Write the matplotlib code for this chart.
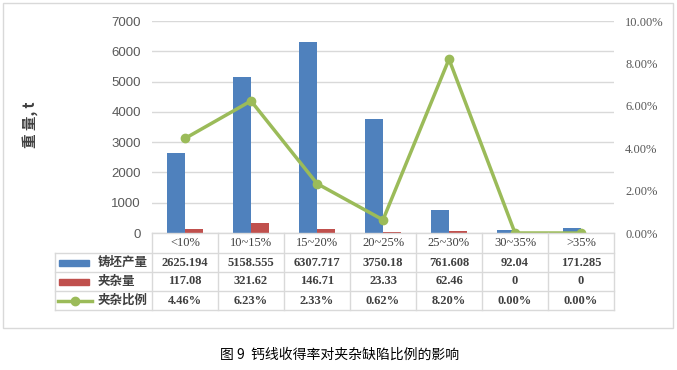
import matplotlib.pyplot as plt
from matplotlib.patches import Rectangle
from matplotlib.lines import Line2D
from matplotlib.ticker import FuncFormatter

plt.rcParams['font.family'] = ['Noto Sans CJK SC', 'DejaVu Sans']

categories = ['<10%', '10~15%', '15~20%', '20~25%', '25~30%', '30~35%', '>35%']
output = [2625.194, 5158.555, 6307.717, 3750.18, 761.608, 92.04, 171.285]
output_txt = ['2625.194', '5158.555', '6307.717', '3750.18', '761.608', '92.04', '171.285']
inclusion = [117.08, 321.62, 146.71, 23.33, 62.46, 0, 0]
inclusion_txt = ['117.08', '321.62', '146.71', '23.33', '62.46', '0', '0']
ratio = [4.46, 6.23, 2.33, 0.62, 8.20, 0.00, 0.00]
ratio_txt = ['4.46%', '6.23%', '2.33%', '0.62%', '8.20%', '0.00%', '0.00%']
names = ['铸坯产量', '夹杂量', '夹杂比例']

blue = '#4F81BD'
red = '#C0504D'
green = '#9BBB59'
grid = '#D9D9D9'
txt = '#404040'

W, H = 677, 370
fig = plt.figure(figsize=(W / 100, H / 100), dpi=100)

def fx(px):
    return px / W

def fy(py):
    return 1 - py / H

# outer border
fig.patches.append(Rectangle((fx(3), fy(328)), fx(670), 325 / H, transform=fig.transFigure,
                             fill=False, edgecolor=grid, linewidth=1))

L, R, T, B = 152, 614, 21, 233
ax = fig.add_axes([fx(L), fy(B), (R - L) / W, (B - T) / H])
x = list(range(len(categories)))
bw = 0.28
ax.bar([i - bw / 2 for i in x], output, width=bw, color=blue, zorder=2)
ax.bar([i + bw / 2 for i in x], inclusion, width=bw, color=red, zorder=2)
ax.set_xlim(-0.5, len(categories) - 0.5)
ax.set_ylim(0, 7000)
ax.set_yticks(range(0, 7001, 1000))
ax.yaxis.grid(True, color=grid, linewidth=1, zorder=0)
ax.set_xticks([])
for s in ax.spines.values():
    s.set_visible(False)
ax.tick_params(axis='y', length=0, pad=8, labelsize=9.5, labelcolor='#595959')
for lab in ax.get_yticklabels():
    lab.set_family(['Liberation Sans'])

ax2 = ax.twinx()
ax2.plot(x, ratio, color=green, linewidth=2.5, marker='o', markersize=6, zorder=3)
ax2.set_ylim(0, 10)
ax2.set_yticks(range(0, 11, 2))
ax2.yaxis.set_major_formatter(FuncFormatter(lambda v, p: '%.2f%%' % v))
for s in ax2.spines.values():
    s.set_visible(False)
ax2.tick_params(axis='y', length=0, pad=8, labelsize=9, labelcolor='#595959')
for lab in ax2.get_yticklabels():
    lab.set_family(['Liberation Serif'])

# y label
fig.text(fx(30), fy(125), '重 量, t', rotation=90, fontsize=10.5, fontweight='bold',
         color=txt, ha='center', va='center')

# data table
cols = [L + 66 * i for i in range(len(categories) + 1)]
rows = [233, 253, 272, 291, 310]
hx = 55
lines = []
lines.append(([fx(L), fx(R)], [fy(rows[0])] * 2))
for r in rows[1:]:
    lines.append(([fx(hx), fx(R)], [fy(r)] * 2))
for c in cols:
    lines.append(([fx(c)] * 2, [fy(rows[0]), fy(rows[-1])]))
lines.append(([fx(hx)] * 2, [fy(rows[1]), fy(rows[-1])]))
for xs, ys in lines:
    fig.add_artist(Line2D(xs, ys, color=grid, linewidth=1, transform=fig.transFigure))

for i, cat in enumerate(categories):
    cx = fx((cols[i] + cols[i + 1]) / 2)
    fig.text(cx, fy((rows[0] + rows[1]) / 2), cat, ha='center', va='center', fontsize=9,
             family=['Liberation Serif'], color=txt)
    for j, vals in enumerate([output_txt, inclusion_txt, ratio_txt]):
        fig.text(cx, fy((rows[j + 1] + rows[j + 2]) / 2), vals[i], ha='center', va='center',
                 fontsize=9, fontweight='bold', family=['Liberation Serif'], color=txt)

# row headers with legend keys
for j, name in enumerate(names):
    cy = (rows[j + 1] + rows[j + 2]) / 2
    fig.text(fx(98), fy(cy), name, ha='left', va='center', fontsize=9, fontweight='bold',
             color=txt)
    if j < 2:
        fig.patches.append(Rectangle((fx(59), fy(cy + 3)), fx(30), 6 / H, transform=fig.transFigure,
                                     color=[blue, red][j]))
    else:
        fig.add_artist(Line2D([fx(58), fx(92)], [fy(cy)] * 2, color=green, linewidth=2.5,
                              transform=fig.transFigure))
        fig.add_artist(Line2D([fx(75)], [fy(cy)], color=green, marker='o', markersize=6,
                              transform=fig.transFigure))

fig.text(fx(340), fy(355), '图 9  钙线收得率对夹杂缺陷比例的影响', ha='center', va='center',
         fontsize=10, color='black')

fig.savefig('out.png', dpi=100)
